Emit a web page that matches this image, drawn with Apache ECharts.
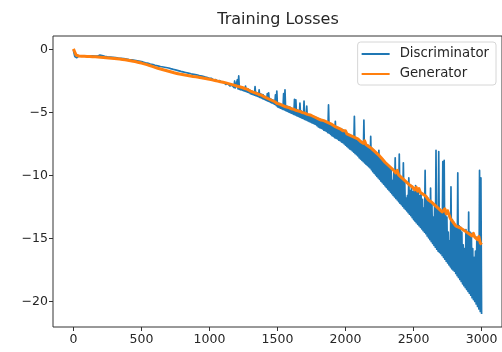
<!DOCTYPE html>
<html>
<head>
<meta charset="utf-8">
<title>Training Losses</title>
<script src="https://cdn.jsdelivr.net/npm/echarts@6/dist/echarts.min.js"></script>
<style>
  html, body { margin: 0; padding: 0; background: #fff; }
  #chart { width: 502px; height: 352px; }
</style>
</head>
<body>
<div id="chart"></div>
<script>
// values, one every DISC_STEP / GEN_STEP iterations
const DISC_STEP = 5
const GEN_STEP = 10
const xTicks = [0, 500, 1000, 1500, 2000, 2500, 3000]
const yTicks = [-20, -15, -10, -5, 0]
const seriesNames = ['Discriminator', 'Generator']

const discriminatorLoss = [
  -0.05, -0.3, -0.55, -0.65, -0.7, -0.65, -0.6, -0.55, -0.5, -0.5, -0.5, -0.5, -0.5, -0.5, -0.5, -0.5, -0.5, -0.5, -0.5, -0.5,
  -0.5, -0.5, -0.51, -0.51, -0.5, -0.51, -0.52, -0.52, -0.51, -0.5, -0.5, -0.51, -0.52, -0.53, -0.53, -0.52, -0.52, -0.51, -0.5, -0.45,
  -0.35, -0.42, -0.48, -0.52, -0.54, -0.55, -0.55, -0.56, -0.57, -0.57, -0.58, -0.59, -0.6, -0.6, -0.6, -0.61, -0.62, -0.62, -0.62, -0.63,
  -0.63, -0.64, -0.65, -0.66, -0.66, -0.67, -0.68, -0.68, -0.68, -0.69, -0.7, -0.71, -0.72, -0.72, -0.72, -0.73, -0.74, -0.75, -0.76, -0.77,
  -0.78, -0.79, -0.8, -0.8, -0.81, -0.82, -0.83, -0.84, -0.85, -0.86, -0.87, -0.88, -0.89, -0.9, -0.91, -0.92, -0.93, -0.94, -0.95, -0.96,
  -0.97, -0.98, -0.99, -1.0, -1.02, -1.03, -1.05, -1.06, -1.08, -1.09, -1.1, -1.12, -1.13, -1.15, -1.16, -1.18, -1.19, -1.2, -1.22, -1.23,
  -1.25, -1.26, -1.27, -1.28, -1.3, -1.31, -1.32, -1.33, -1.35, -1.36, -1.37, -1.38, -1.39, -1.4, -1.41, -1.42, -1.43, -1.44, -1.45, -1.46,
  -1.47, -1.49, -1.5, -1.52, -1.53, -1.55, -1.56, -1.58, -1.59, -1.6, -1.62, -1.63, -1.65, -1.66, -1.68, -1.69, -1.71, -1.72, -1.74, -1.75,
  -1.76, -1.78, -1.79, -1.8, -1.81, -1.83, -1.84, -1.85, -1.86, -1.88, -1.89, -1.9, -1.91, -1.93, -1.94, -1.95, -1.96, -1.97, -1.98, -1.99,
  -2.0, -2.01, -2.02, -2.04, -2.05, -2.07, -2.08, -2.09, -2.1, -2.12, -2.13, -2.15, -2.16, -2.18, -2.19, -2.2, -2.21, -2.23, -2.24, -2.25,
  -2.3, -2.27, -2.34, -2.3, -2.38, -2.33, -2.42, -2.36, -2.45, -2.39, -2.48, -2.42, -2.52, -2.45, -2.55, -2.47, -2.58, -2.5, -2.6, -2.55,
  -2.7, -2.62, -2.74, -2.66, -2.78, -2.7, -2.82, -2.72, -2.86, -2.76, -2.9, -2.8, -2.94, -2.84, -2.98, -2.86, -3.02, -2.5, -3.05, -2.92,
  -3.1, -2.4, -3.13, -2.1, -3.16, -2.96, -3.2, -3.0, -3.23, -3.05, -3.27, -3.08, -3.3, -2.9, -3.34, -3.12, -3.38, -3.15, -3.42, -3.2,
  -3.5, -3.28, -3.54, -3.32, -3.58, -3.36, -3.62, -2.95, -3.66, -3.42, -3.7, -3.46, -3.75, -3.2, -3.8, -3.52, -3.85, -3.56, -3.9, -3.6,
  -3.95, -3.72, -4.0, -3.78, -4.05, -3.5, -4.1, -3.45, -4.15, -3.9, -4.2, -3.95, -4.25, -4.0, -4.3, -4.05, -4.35, -3.6, -4.45, -3.3,
  -4.55, -4.25, -4.6, -4.3, -4.65, -4.35, -4.7, -4.4, -4.75, -3.5, -4.8, -3.2, -4.85, -4.5, -4.9, -4.52, -4.95, -4.55, -5.0, -4.6,
  -5.05, -4.68, -5.1, -4.72, -5.15, -3.95, -5.2, -4.0, -5.25, -4.8, -5.3, -4.85, -5.35, -4.25, -5.4, -4.9, -5.45, -4.95, -5.5, -4.1,
  -5.55, -5.1, -5.6, -4.5, -5.65, -5.15, -5.7, -5.2, -5.75, -5.25, -5.8, -5.3, -5.85, -5.3, -5.9, -5.35, -5.95, -5.4, -6.05, -5.45,
  -6.15, -5.5, -6.2, -5.55, -6.25, -5.6, -6.3, -5.65, -6.4, -5.7, -6.45, -5.75, -6.5, -5.8, -6.6, -4.4, -6.65, -5.9, -6.75, -5.95,
  -6.85, -6.0, -6.9, -6.05, -7.0, -5.7, -7.05, -6.15, -7.1, -6.2, -7.2, -6.25, -7.25, -6.3, -7.35, -6.35, -7.4, -6.4, -7.5, -6.5,
  -7.6, -6.6, -7.7, -6.7, -7.8, -6.75, -7.9, -6.85, -7.95, -6.9, -8.05, -7.0, -8.15, -5.3, -8.25, -7.05, -8.35, -7.1, -8.45, -7.2,
  -8.6, -7.25, -8.7, -7.3, -8.8, -7.4, -8.9, -5.6, -9.0, -7.5, -9.1, -7.55, -9.2, -7.6, -9.3, -7.7, -9.4, -6.9, -9.55, -7.85,
  -9.7, -7.95, -9.82, -8.1, -9.95, -8.25, -10.08, -8.4, -10.2, -8.0, -10.32, -8.55, -10.45, -8.7, -10.58, -8.75, -10.7, -8.9, -10.82, -9.0,
  -10.95, -9.1, -11.08, -9.25, -11.2, -9.4, -11.32, -9.5, -11.45, -10.4, -11.58, -9.7, -11.7, -8.6, -11.82, -9.8, -11.95, -9.9, -12.08, -8.3,
  -12.2, -10.1, -12.32, -10.3, -12.45, -9.0, -12.58, -10.4, -12.7, -11.8, -12.82, -11.6, -12.95, -10.2, -13.08, -11.2, -13.2, -10.8, -13.35, -11.3,
  -13.5, -11.0, -13.62, -10.8, -13.75, -11.2, -13.88, -11.3, -14.0, -11.6, -14.12, -11.4, -14.25, -11.9, -14.38, -12.6, -14.5, -9.6, -14.62, -11.7,
  -14.8, -11.8, -14.95, -12.1, -15.1, -11.0, -15.25, -12.2, -15.4, -13.3, -15.55, -12.3, -15.7, -8.0, -15.85, -12.5, -16.0, -8.1, -16.1, -12.7,
  -16.2, -12.8, -16.35, -8.9, -16.5, -8.8, -16.65, -13.0, -16.8, -13.3, -16.95, -14.5, -17.1, -15.2, -17.25, -10.9, -17.4, -13.5, -17.5, -13.7,
  -17.6, -13.9, -17.78, -14.2, -17.95, -9.8, -18.1, -14.0, -18.25, -14.1, -18.42, -14.5, -18.6, -15.5, -18.75, -15.8, -18.9, -14.3, -19.05, -14.6,
  -19.2, -12.9, -19.35, -14.5, -19.5, -14.6, -19.7, -15.8, -19.85, -16.5, -20.0, -16.0, -20.2, -14.9, -20.4, -15.0, -20.6, -9.6, -20.8, -10.2,
  -21.0
]

const generatorLoss = [
  0.05, -0.2, -0.45, -0.5, -0.52, -0.52, -0.53, -0.53, -0.54, -0.54,
  -0.55, -0.55, -0.56, -0.56, -0.57, -0.57, -0.58, -0.58, -0.59, -0.6,
  -0.61, -0.62, -0.63, -0.64, -0.65, -0.66, -0.67, -0.68, -0.69, -0.7,
  -0.71, -0.72, -0.73, -0.75, -0.76, -0.78, -0.79, -0.81, -0.82, -0.84,
  -0.86, -0.88, -0.9, -0.92, -0.94, -0.96, -0.98, -1.0, -1.03, -1.05,
  -1.08, -1.11, -1.14, -1.17, -1.2, -1.23, -1.27, -1.3, -1.34, -1.38,
  -1.42, -1.45, -1.49, -1.52, -1.55, -1.58, -1.61, -1.64, -1.67, -1.7,
  -1.73, -1.76, -1.79, -1.82, -1.85, -1.88, -1.9, -1.93, -1.95, -1.97,
  -1.98, -2.0, -2.02, -2.04, -2.06, -2.08, -2.1, -2.12, -2.14, -2.16,
  -2.17, -2.19, -2.2, -2.22, -2.24, -2.26, -2.28, -2.3, -2.32, -2.34,
  -2.36, -2.38, -2.41, -2.43, -2.46, -2.48, -2.51, -2.53, -2.56, -2.58,
  -2.6, -2.63, -2.65, -2.68, -2.71, -2.74, -2.77, -2.8, -2.83, -2.86,
  -2.9, -2.92, -2.96, -2.99, -3.02, -3.06, -3.1, -3.13, -3.17, -3.2,
  -3.3, -3.27, -3.38, -3.35, -3.46, -3.42, -3.55, -3.5, -3.62, -3.6,
  -3.75, -3.7, -3.85, -3.82, -3.95, -3.9, -4.05, -4.0, -4.15, -4.12,
  -4.3, -4.2, -4.35, -4.3, -4.45, -4.38, -4.55, -4.5, -4.6, -4.58,
  -4.7, -4.62, -4.75, -4.7, -4.85, -4.78, -4.9, -4.85, -5.0, -4.95,
  -5.05, -5.0, -5.15, -5.05, -5.2, -5.15, -5.3, -5.25, -5.4, -5.35,
  -5.5, -5.4, -5.6, -5.5, -5.65, -5.6, -5.75, -5.7, -5.85, -5.8,
  -5.95, -5.9, -6.1, -6.0, -6.2, -6.15, -6.3, -6.25, -6.45, -6.4,
  -6.45, -6.7, -6.55, -6.8, -6.65, -6.9, -6.75, -7.0, -6.85, -7.1,
  -7.05, -7.3, -7.15, -7.45, -7.25, -7.55, -7.4, -7.7, -7.55, -7.85,
  -7.75, -8.05, -7.9, -8.25, -8.1, -8.45, -8.3, -8.7, -8.55, -8.95,
  -8.85, -9.15, -9.0, -9.35, -9.2, -9.55, -9.4, -9.8, -9.6, -9.95,
  -9.85, -10.15, -10.0, -10.35, -10.2, -10.55, -10.4, -10.75, -10.6, -10.9,
  -10.85, -11.15, -10.95, -11.25, -11.05, -11.35, -11.2, -11.5, -11.35, -11.65,
  -11.65, -11.95, -11.8, -12.1, -11.95, -12.3, -12.15, -12.5, -12.35, -12.7,
  -12.6, -12.9, -12.8, -12.65, -13.05, -12.8, -13.1, -13.4, -13.35, -13.7,
  -13.75, -14.0, -13.85, -14.1, -13.95, -14.2, -14.05, -14.35, -14.2, -14.5,
  -14.35, -14.65, -14.5, -14.8, -14.6, -14.9, -14.75, -15.1, -14.85, -15.35,
  -15.5
]

const toPoints = (values, step) => values.map((v, i) => [i * step, v])
const minusSign = v => (v < 0 ? '\u2212' + Math.abs(v) : String(v))

const font = 'DejaVu Sans'
const inkColor = '#262626'

const chart = echarts.init(document.getElementById('chart'))

const option = {
  animation: false,
  backgroundColor: '#fff',
  title: {
    text: 'Training Losses',
    left: 278,
    top: 12,
    padding: 0,
    textAlign: 'center',
    textStyle: { fontFamily: font, fontSize: 16, fontWeight: 'normal', color: inkColor }
  },
  legend: {
    data: seriesNames,
    orient: 'vertical',
    right: 6,
    top: 42,
    icon: 'rect',
    itemWidth: 28,
    itemHeight: 2,
    itemGap: 4,
    padding: [4, 7, 3, 4],
    borderColor: '#d6d6d6',
    borderWidth: 1,
    borderRadius: 3,
    backgroundColor: 'rgba(255,255,255,0.8)',
    textStyle: { fontFamily: font, fontSize: 13.3, lineHeight: 16, color: inkColor, padding: [0, 0, 0, 5] }
  },
  grid: {
    left: 53,
    right: 0,
    top: 36,
    bottom: 25,
    show: true,
    borderColor: '#333',
    borderWidth: 1
  },
  xAxis: {
    type: 'value',
    min: -150,
    max: 3150,
    splitLine: { show: false },
    axisLine: { show: false, onZero: false },
    axisTick: { show: true, length: 4, lineStyle: { color: '#333' }, customValues: xTicks },
    axisLabel: {
      customValues: xTicks,
      fontFamily: font,
      fontSize: 12.5,
      color: inkColor,
      margin: 6,
      formatter: v => String(v)
    }
  },
  yAxis: {
    type: 'value',
    min: -22.03,
    max: 1.07,
    splitLine: { show: false },
    axisLine: { show: false, onZero: false },
    axisTick: { show: true, length: 4, lineStyle: { color: '#333' }, customValues: yTicks },
    axisLabel: { customValues: yTicks, fontFamily: font, fontSize: 12.5, color: inkColor, margin: 5, formatter: minusSign }
  },
  series: [
    {
      name: seriesNames[0],
      type: 'line',
      data: toPoints(discriminatorLoss, DISC_STEP),
      showSymbol: false,
      color: '#1f77b4',
      lineStyle: { width: 1.7, color: '#1f77b4', join: 'round' }
    },
    {
      name: seriesNames[1],
      type: 'line',
      data: toPoints(generatorLoss, GEN_STEP),
      showSymbol: false,
      color: '#ff7f0e',
      lineStyle: { width: 3, color: '#ff7f0e', join: 'round' }
    }
  ]
}

chart.setOption(option)
</script>
</body>
</html>
